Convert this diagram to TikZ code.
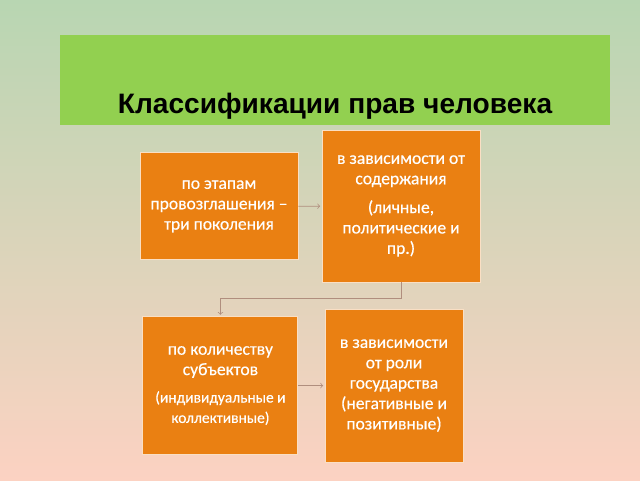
\documentclass[tikz,border=0pt]{standalone}
\usepackage{fontspec}
\setmainfont{Carlito}
\newfontfamily\titlefont{Liberation Sans}
\newfontfamily\boxfont[FakeBold=0.4]{Carlito}
\usepackage{tikz}
\usetikzlibrary{positioning}

\definecolor{bgtop}{RGB}{184,214,178}
\definecolor{bgmid}{RGB}{238,214,186}
\definecolor{bgbot}{RGB}{252,210,194}
\definecolor{titlegreen}{RGB}{146,208,80}
\definecolor{boxorange}{RGB}{234,128,18}
\definecolor{arrowgrey}{RGB}{176,142,126}

\begin{document}
\begin{tikzpicture}[auto, every loop/.style={},
	class node/.style={rectangle,draw=white!75!boxorange,line width=0.6pt,fill=boxorange,
		text=white,align=center,font=\boxfont\fontsize{12.5}{14.5}\selectfont,inner sep=2pt},
	link/.style={->,draw=arrowgrey,line width=0.5pt,shorten >=1pt}]
	
	  % background and title band
	  \useasboundingbox (0,0) rectangle (16,-12);
	  \shade[top color=bgtop, middle color=bgmid, bottom color=bgbot] (0,0) rectangle (16,-12);
	  \fill[titlegreen] (1.5,-0.875) rectangle (15.25,-3.125);
	  \node[anchor=base] (title) at (8.375,-2.83)
	    {\titlefont\fontsize{20}{23}\selectfont\bfseries Классификации прав человека};
	
	  \node[class node,minimum width=3.95cm,minimum height=2.675cm] (1) at (5.475,-5.16)
	    {по этапам\\провозглашения –\\три поколения};
	  \node[class node,minimum width=3.95cm,minimum height=3.8cm] (2) at (10.025,-5.15)
	    {в зависимости от\\содержания\\[6pt](личные,\\политические и\\пр.)};
	  \node[class node,minimum width=3.875cm,minimum height=3.45cm] (3) at (5.51,-9.64)
	    {по количеству\\субъектов\\[5pt]{\fontsize{11}{11.5}\selectfont(индивидуальные и}\\{\fontsize{11}{11.5}\selectfont коллективные)}};
	  \node[class node,minimum width=3.45cm,minimum height=3.825cm] (4) at (9.85,-9.64)
	    {в зависимости\\от роли\\государства\\(негативные и\\позитивные)};
	  
	  \draw[link] (1) -- (2);
	  \draw[link] (2.south) -- ++(0,-0.4) -| (3.north);
	  \draw[link] (3) -- (4);
	
	\end{tikzpicture}
\end{document}
